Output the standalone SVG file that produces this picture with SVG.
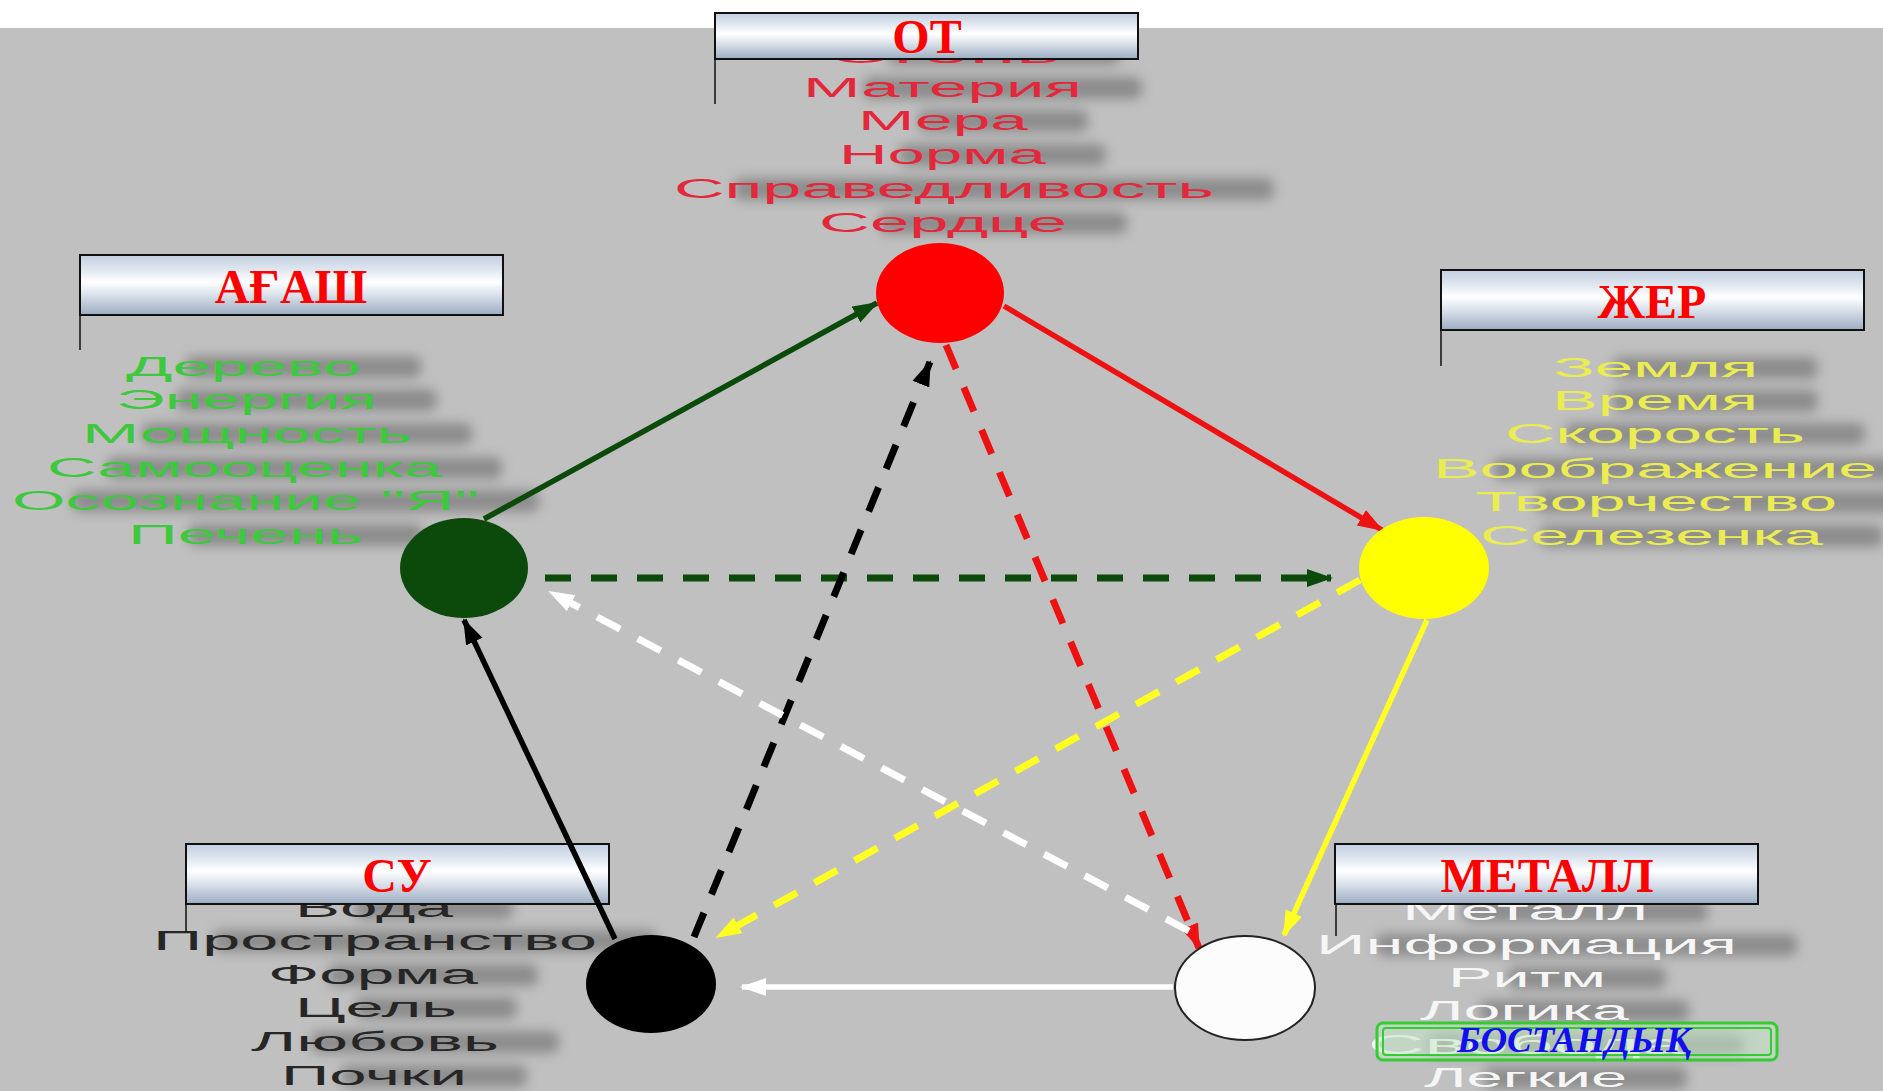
<svg xmlns="http://www.w3.org/2000/svg" width="1883" height="1091" viewBox="0 0 1883 1091">
<defs>
<style>
.lst{font-family:"Liberation Sans",Arial,sans-serif;font-size:27px;}
.hd{font-family:"Liberation Serif","Times New Roman",serif;font-size:48px;font-weight:bold;fill:#ff0000;text-anchor:middle;}
.box{fill:url(#metal);stroke:#111;stroke-width:2;}
.tick{stroke:#111;stroke-width:1.5;}
.con{fill:none;stroke-width:5.5;}
.dash{fill:none;stroke-width:7;stroke-dasharray:26 20;}
.shd{fill:#6a6a6a;opacity:0.6;filter:url(#blur);}
</style>
<linearGradient id="metal" x1="0" y1="0" x2="0" y2="1">
<stop offset="0" stop-color="#c3cfe0"/>
<stop offset="0.22" stop-color="#dce4ee"/>
<stop offset="0.45" stop-color="#ffffff"/>
<stop offset="0.62" stop-color="#e2e8f0"/>
<stop offset="1" stop-color="#9cadc2"/>
</linearGradient>
<filter id="blur" x="-30%" y="-100%" width="160%" height="300%"><feGaussianBlur stdDeviation="6"/></filter>
<marker id="aG" markerUnits="userSpaceOnUse" markerWidth="26" markerHeight="20" viewBox="0 0 26 20" refX="24" refY="10" orient="auto"><path d="M0,1 L26,10 L0,19 z" fill="#0b4a0b"/></marker>
<marker id="aR" markerUnits="userSpaceOnUse" markerWidth="26" markerHeight="20" viewBox="0 0 26 20" refX="24" refY="10" orient="auto"><path d="M0,1 L26,10 L0,19 z" fill="#ee1111"/></marker>
<marker id="aY" markerUnits="userSpaceOnUse" markerWidth="26" markerHeight="20" viewBox="0 0 26 20" refX="24" refY="10" orient="auto"><path d="M0,1 L26,10 L0,19 z" fill="#ffff22"/></marker>
<marker id="aW" markerUnits="userSpaceOnUse" markerWidth="26" markerHeight="20" viewBox="0 0 26 20" refX="24" refY="10" orient="auto"><path d="M0,1 L26,10 L0,19 z" fill="#ffffff"/></marker>
<marker id="aK" markerUnits="userSpaceOnUse" markerWidth="26" markerHeight="20" viewBox="0 0 26 20" refX="24" refY="10" orient="auto"><path d="M0,1 L26,10 L0,19 z" fill="#000000"/></marker>
</defs>

<rect x="0" y="0" width="1883" height="1091" fill="#ffffff"/>
<rect x="0" y="28" width="1883" height="1063" fill="#c0c0c0"/>

<!-- blurred text shadows -->
<g id="shadows" class="shd">
<rect x="888" y="43" width="232" height="22" rx="8"/>
<rect x="863" y="77" width="279" height="22" rx="8"/>
<rect x="918" y="110" width="170" height="22" rx="8"/>
<rect x="899" y="144" width="207" height="22" rx="8"/>
<rect x="734" y="178" width="540" height="22" rx="8"/>
<rect x="879" y="212" width="248" height="22" rx="8"/>
<rect x="186" y="356" width="235" height="22" rx="8"/>
<rect x="176" y="389" width="261" height="22" rx="8"/>
<rect x="142" y="423" width="330" height="22" rx="8"/>
<rect x="107" y="457" width="395" height="22" rx="8"/>
<rect x="72" y="490" width="467" height="22" rx="8"/>
<rect x="188" y="524" width="235" height="22" rx="8"/>
<rect x="1613" y="357" width="205" height="22" rx="8"/>
<rect x="1612" y="390" width="206" height="22" rx="8"/>
<rect x="1565" y="423" width="300" height="22" rx="8"/>
<rect x="1493" y="458" width="444" height="22" rx="8"/>
<rect x="1535" y="491" width="362" height="22" rx="8"/>
<rect x="1540" y="525" width="343" height="22" rx="8"/>
<rect x="355" y="897" width="158" height="22" rx="8"/>
<rect x="213" y="930" width="444" height="22" rx="8"/>
<rect x="328" y="964" width="210" height="22" rx="8"/>
<rect x="355" y="997" width="162" height="22" rx="8"/>
<rect x="311" y="1031" width="248" height="22" rx="8"/>
<rect x="341" y="1065" width="186" height="22" rx="8"/>
<rect x="1462" y="900" width="246" height="22" rx="8"/>
<rect x="1376" y="934" width="421" height="22" rx="8"/>
<rect x="1508" y="967" width="158" height="22" rx="8"/>
<rect x="1480" y="1000" width="209" height="22" rx="8"/>
<rect x="1428" y="1034" width="316" height="22" rx="8"/>
<rect x="1484" y="1067" width="203" height="22" rx="8"/>
</g>

<!-- node OT -->
<g id="node-ot">
<g class="lst" fill="#e2283a">
<text x="828" y="63" textLength="232" lengthAdjust="spacingAndGlyphs">Огонь</text>
<text x="803" y="97" textLength="279" lengthAdjust="spacingAndGlyphs">Материя</text>
<text x="858" y="130" textLength="170" lengthAdjust="spacingAndGlyphs">Мера</text>
<text x="839" y="164" textLength="207" lengthAdjust="spacingAndGlyphs">Норма</text>
<text x="674" y="198" textLength="540" lengthAdjust="spacingAndGlyphs">Справедливость</text>
<text x="819" y="232" textLength="248" lengthAdjust="spacingAndGlyphs">Сердце</text>
</g>
<line class="tick" x1="715" y1="59" x2="715" y2="104"/>
<rect class="box" x="715" y="13" width="423" height="46"/>
<text class="hd" x="927" y="53">ОТ</text>
</g>

<!-- node АҒАШ -->
<g id="node-agash">
<g class="lst" fill="#3ec83e">
<text x="126" y="376" textLength="235" lengthAdjust="spacingAndGlyphs">Дерево</text>
<text x="116" y="409" textLength="261" lengthAdjust="spacingAndGlyphs">Энергия</text>
<text x="82" y="443" textLength="330" lengthAdjust="spacingAndGlyphs">Мощность</text>
<text x="47" y="477" textLength="395" lengthAdjust="spacingAndGlyphs">Самооценка</text>
<text x="12" y="510" textLength="467" lengthAdjust="spacingAndGlyphs">Осознание "Я"</text>
<text x="128" y="544" textLength="235" lengthAdjust="spacingAndGlyphs">Печень</text>
</g>
<line class="tick" x1="80" y1="315" x2="80" y2="350"/>
<rect class="box" x="80" y="255" width="423" height="60"/>
<text class="hd" x="291" y="303">АҒАШ</text>
</g>

<!-- node ЖЕР -->
<g id="node-zher">
<g class="lst" fill="#eaec52">
<text x="1553" y="377" textLength="205" lengthAdjust="spacingAndGlyphs">Земля</text>
<text x="1552" y="410" textLength="206" lengthAdjust="spacingAndGlyphs">Время</text>
<text x="1505" y="443" textLength="300" lengthAdjust="spacingAndGlyphs">Скорость</text>
<text x="1433" y="478" textLength="444" lengthAdjust="spacingAndGlyphs">Воображение</text>
<text x="1475" y="511" textLength="362" lengthAdjust="spacingAndGlyphs">Творчество</text>
<text x="1480" y="545" textLength="343" lengthAdjust="spacingAndGlyphs">Селезенка</text>
</g>
<line class="tick" x1="1441" y1="330" x2="1441" y2="366"/>
<rect class="box" x="1441" y="270" width="423" height="60"/>
<text class="hd" x="1652" y="318">ЖЕР</text>
</g>

<!-- node СУ -->
<g id="node-su">
<g class="lst" fill="#262626">
<text x="295" y="917" textLength="158" lengthAdjust="spacingAndGlyphs">Вода</text>
<text x="153" y="950" textLength="444" lengthAdjust="spacingAndGlyphs">Пространство</text>
<text x="268" y="984" textLength="210" lengthAdjust="spacingAndGlyphs">Форма</text>
<text x="295" y="1017" textLength="162" lengthAdjust="spacingAndGlyphs">Цель</text>
<text x="251" y="1051" textLength="248" lengthAdjust="spacingAndGlyphs">Любовь</text>
<text x="281" y="1085" textLength="186" lengthAdjust="spacingAndGlyphs">Почки</text>
</g>
<line class="tick" x1="186" y1="904" x2="186" y2="932"/>
<rect class="box" x="186" y="844" width="423" height="60"/>
<text class="hd" x="397" y="892">СУ</text>
</g>

<!-- node МЕТАЛЛ -->
<g id="node-metall">
<g class="lst" fill="#f6f6f6">
<text x="1402" y="920" textLength="246" lengthAdjust="spacingAndGlyphs">Металл</text>
<text x="1316" y="954" textLength="421" lengthAdjust="spacingAndGlyphs">Информация</text>
<text x="1448" y="987" textLength="158" lengthAdjust="spacingAndGlyphs">Ритм</text>
<text x="1420" y="1020" textLength="209" lengthAdjust="spacingAndGlyphs">Логика</text>
<text x="1368" y="1054" textLength="316" lengthAdjust="spacingAndGlyphs">Свобода</text>
<text x="1424" y="1087" textLength="203" lengthAdjust="spacingAndGlyphs">Легкие</text>
</g>
<line class="tick" x1="1336" y1="904" x2="1336" y2="936"/>
<rect class="box" x="1335" y="844" width="423" height="60"/>
<text class="hd" x="1547" y="892">МЕТАЛЛ</text>
</g>

<!-- node БОСТАНДЫҚ -->
<g id="node-bostandyq">
<rect x="1377" y="1023" width="400" height="37" rx="6" fill="#c4e8c4" fill-opacity="0.55" stroke="#33cc33" stroke-width="3"/>
<rect x="1383" y="1028" width="388" height="27" rx="3" fill="none" stroke="#33cc33" stroke-width="2"/>
<text x="1457" y="1052" textLength="234" lengthAdjust="spacingAndGlyphs" font-family="'Liberation Serif','Times New Roman',serif" font-size="36" font-weight="bold" font-style="italic" fill="#1010ee">БОСТАНДЫҚ</text>
</g>

<!-- connectors -->
<g id="connectors">
<path class="con" d="M484,519 L877,303" stroke="#0b4a0b" marker-end="url(#aG)"/>
<path class="con" d="M1004,306 L1382,530" stroke="#ee1111" marker-end="url(#aR)"/>
<path class="con" d="M1427,620 L1284,935" stroke="#ffff22" marker-end="url(#aY)"/>
<path class="con" d="M1173,987 L742,987" stroke="#ffffff" marker-end="url(#aW)"/>
<path class="con" d="M615,939 L464,620" stroke="#000000" marker-end="url(#aK)"/>
<path class="dash" d="M545,578 L1331,578" stroke="#0b4a0b" marker-end="url(#aG)"/>
<path class="dash" d="M694,937 L930,362" stroke="#000000" marker-end="url(#aK)"/>
<path class="dash" d="M946,345 L1199,948" stroke="#ee1111" marker-end="url(#aR)"/>
<path class="dash" d="M1360,580 L717,937" stroke="#ffff22" marker-end="url(#aY)"/>
<path class="dash" d="M1189,931 L550,592" stroke="#ffffff" marker-end="url(#aW)"/>
</g>

<!-- circles -->
<g id="circle-ot"><ellipse cx="940" cy="293" rx="64" ry="50" fill="#ff0000"/></g>
<g id="circle-agash"><ellipse cx="464" cy="568" rx="64" ry="50" fill="#0b4a0b"/></g>
<g id="circle-zher"><ellipse cx="1424" cy="568" rx="65" ry="51" fill="#ffff00"/></g>
<g id="circle-su"><ellipse cx="651" cy="984" rx="65" ry="49" fill="#000000"/></g>
<g id="circle-metall"><ellipse cx="1245" cy="988" rx="70" ry="52" fill="#fcfcfc" stroke="#222" stroke-width="2"/></g>
</svg>
